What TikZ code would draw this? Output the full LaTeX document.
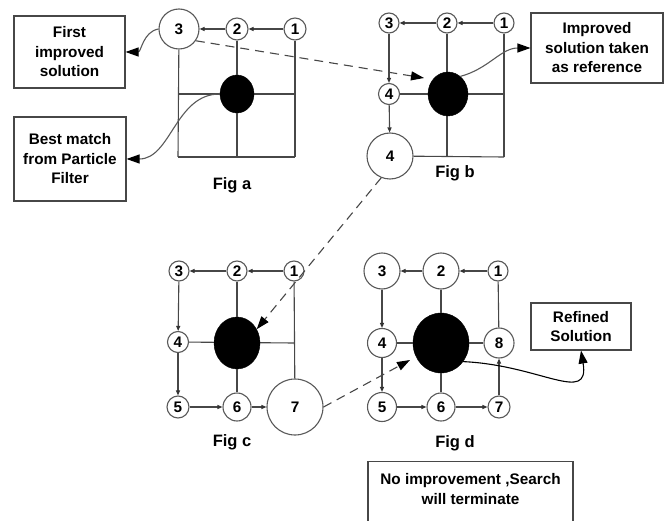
\documentclass[tikz,border=0pt]{standalone}
\usepackage{fontspec}
\setmainfont{Liberation Sans}
\usetikzlibrary{arrows.meta,shapes.geometric,calc}
\begin{document}
\begin{tikzpicture}[x=1pt,y=-1pt,
  font=\fontsize{15.3}{19.5}\selectfont\bfseries,
  ln/.style={draw=black!72,line width=1.1pt},
  circ/.style={circle,draw=black!65,line width=1.1pt,fill=white,inner sep=0pt,minimum size=#1},
  blob/.style={ellipse,fill=black,draw=black,inner sep=0pt,minimum width=#1},
  txtbox/.style={draw=black!72,line width=1.1pt,align=center,inner sep=0pt},
  sa/.style={ln,-{Triangle[length=5pt,width=4pt,black!80]}},
  ba/.style={ln,-{Triangle[length=13pt,width=9pt,black]}},
  da/.style={ba,dash pattern=on 9pt off 6pt},
  figlabel/.style={inner sep=0pt,font=\fontsize{16.5}{20}\selectfont\bfseries}
]
\useasboundingbox (0,0) rectangle (668,521);
\clip (0,0) rectangle (668,521);

% ---------------- Fig a ----------------
\coordinate (a_ml) at (178,94);
\coordinate (a_mr) at (295,94);
\coordinate (a_bl) at (178,157);
\coordinate (a_br) at (295,157);
\coordinate (a_bm) at (237,157);
\draw[ln] (a_ml) -- (a_mr);
\draw[ln] (a_bl) -- (a_br);
\node[blob=34pt,minimum height=38pt] (ae) at (237,94) {};
\node[circ=40pt] (a3) at (179,29) {3};
\node[circ=22pt] (a2) at (237,29) {2};
\node[circ=22pt] (a1) at (295,29) {1};
\draw[ln] (a3) -- (a_bl);
\draw[ln] (a1) -- (a_br);
\draw[ln] (a2) -- (ae);
\draw[ln] (ae) -- (a_bm);
\draw[sa] (a1) -- (a2);
\draw[sa] (a2) -- (a3);
\node[txtbox,minimum width=111pt,minimum height=72pt] (boxA1) at (69.5,52) {First\\improved\\solution};
\node[txtbox,minimum width=112pt,minimum height=84pt] (boxA2) at (70,159) {Best match\\from Particle\\Filter};
\draw[ba,draw=black!65] (a3.west) to[out=190,in=0] (boxA1.east);
\draw[ba,draw=black!65] (ae.west) to[out=180,in=0] (boxA2.east);
\node[figlabel] (figa) at (232,185) {Fig a};

% ---------------- Fig b ----------------
\coordinate (b_mr) at (504,94);
\coordinate (b_br) at (504,157);
\coordinate (b_bm) at (447,157);
\node[circ=20pt] (b3) at (389,23) {3};
\node[circ=20pt] (b2) at (447,23) {2};
\node[circ=20pt] (b1) at (504,23) {1};
\node[circ=21pt] (b4) at (389,94) {4};
\node[circ=46pt] (bB) at (390,156) {4};
\draw[ln] (b4) -- (b_mr);
\draw[ln] (bB) -- (b_br);
\draw[ln] (b2) -- (b_bm);
\draw[ln] (b1) -- (b_br);
\node[blob=40pt,minimum height=44pt] (be) at (448,94) {};
\draw[sa] (b1) -- (b2);
\draw[sa] (b2) -- (b3);
\draw[sa] (b3) -- (b4);
\draw[sa] (b4) -- (bB);
\node[txtbox,minimum width=132pt,minimum height=70pt] (boxB) at (597,48) {Improved\\solution taken\\as reference};
\draw[ba,draw=black!65] (be.55) to[out=15,in=180] (boxB.west);
\node[figlabel] (figb) at (455,173) {Fig b};
\coordinate (bt) at (424,78);
\draw[da] (a3.-35) -- (bt);

% ---------------- Fig c ----------------
\coordinate (c_mr) at (294,343);
\node[circ=20pt] (c3) at (179,271) {3};
\node[circ=20pt] (c2) at (237,271) {2};
\node[circ=20pt] (c1) at (294,271) {1};
\node[circ=21pt] (c4) at (178,342) {4};
\node[circ=22pt] (c5) at (178,407) {5};
\node[circ=28pt] (c6) at (237,407) {6};
\node[circ=56pt] (c7) at (295,407) {7};
\draw[ln] (c4) -- (c_mr);
\draw[ln] (c1) -- (c7);
\node[blob=46pt,minimum height=52pt] (ce) at (237,343) {};
\draw[ln] (c2) -- (ce);
\draw[ln] (ce) -- (c6);
\draw[sa] (c1) -- (c2);
\draw[sa] (c2) -- (c3);
\draw[sa] (c3) -- (c4);
\draw[sa] (c4) -- (c5);
\draw[sa] (c5) -- (c6);
\draw[sa] (c6) -- (c7);
\node[figlabel] (figc) at (232,442) {Fig c};
\draw[da] (bB.248) -- (ce.35);

% ---------------- Fig d ----------------
\node[circ=36pt] (d3) at (382,271) {3};
\node[circ=36pt] (d2) at (441,271) {2};
\node[circ=20pt] (d1) at (498,271) {1};
\node[circ=29pt] (d4) at (382,343) {4};
\node[blob=56pt,minimum height=60pt] (de) at (441,343) {};
\node[circ=30pt] (d8) at (499,343) {8};
\node[circ=29pt] (d5) at (382,407) {5};
\node[circ=28pt] (d6) at (441,407) {6};
\node[circ=22pt] (d7) at (499,407) {7};
\draw[ln] (d4) -- (de);
\draw[ln] (de) -- (d8);
\draw[ln] (d2) -- (de);
\draw[ln] (de) -- (d6);
\draw[ln] (d1) -- (d8);
\draw[sa] (d1) -- (d2);
\draw[sa] (d2) -- (d3);
\draw[sa] (d3) -- (d4);
\draw[sa] (d4) -- (d5);
\draw[sa] (d5) -- (d6);
\draw[sa] (d6) -- (d7);
\draw[sa] (d7) -- (d8);
\node[txtbox,minimum width=100pt,minimum height=47pt] (boxD) at (581,326.5) {Refined\\Solution};
\draw[ba,draw=black] (de.-40) .. controls (540,365) and (590,405) .. (boxD.south);
\node[figlabel] (figd) at (455,443) {Fig d};
\coordinate (dt) at (410,360);
\draw[da] (c7.east) -- (dt);

% ---------------- bottom box ----------------
\node[txtbox,anchor=north,minimum width=205pt,inner ysep=12pt,text depth=60pt] (boxE) at (470.5,461) {No improvement ,Search\\will terminate};
\end{tikzpicture}
\end{document}
